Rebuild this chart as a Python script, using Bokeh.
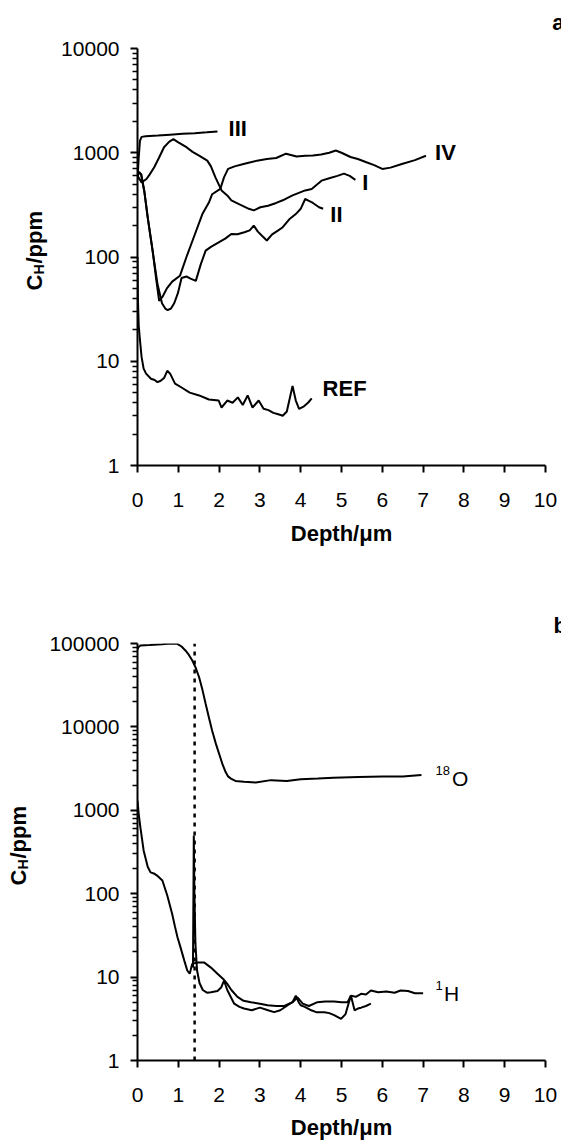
from math import pi, log10
from bokeh.plotting import figure
from bokeh.layouts import column
from bokeh.models import Range1d, FixedTicker, NumeralTickFormatter, Label
from bokeh.embed import file_html
from bokeh.resources import INLINE

# ---------------- data (panel a) ----------------
REF_d = [0.0, 0.01, 0.03, 0.06, 0.1, 0.15, 0.21, 0.33, 0.42, 0.49, 0.57, 0.65, 0.73, 0.8, 0.92, 1.08,
         1.28, 1.51, 1.75, 1.99, 2.06, 2.2, 2.33, 2.46, 2.58, 2.7, 2.82, 2.97, 3.09, 3.21, 3.33, 3.45,
         3.56, 3.66, 3.72, 3.8, 3.88, 3.96, 4.08, 4.18, 4.27]
REF_v = [100, 40, 22, 16, 11, 8.5, 7.6, 6.8, 6.6, 6.3, 6.5, 6.9, 8.1, 7.6, 6.1, 5.6,
         5.0, 4.7, 4.3, 4.2, 3.6, 4.2, 4.0, 4.5, 3.8, 4.7, 3.6, 4.2, 3.5, 3.4, 3.2, 3.1,
         3.0, 3.3, 4.2, 5.8, 4.2, 3.5, 3.7, 4.0, 4.4]

III_d = [0.0, 0.03, 0.06, 0.1, 0.2, 0.5, 0.8, 1.1, 1.4, 1.7, 1.96]
III_v = [550, 900, 1300, 1420, 1440, 1460, 1490, 1520, 1540, 1570, 1600]

I_d = [0.0, 0.05, 0.1, 0.22, 0.3, 0.41, 0.53, 0.65, 0.78, 0.88, 1.0, 1.2, 1.35, 1.51, 1.71, 1.8,
       1.91, 2.06, 2.2, 2.3, 2.5, 2.73, 2.85, 3.01, 3.2, 3.4, 3.56, 3.8, 4.11, 4.27, 4.51, 4.7,
       4.9, 5.06, 5.2, 5.34]
I_v = [600, 560, 520, 560, 620, 725, 900, 1130, 1280, 1350, 1260, 1130, 1020, 940, 840, 740,
       580, 435, 390, 350, 320, 290, 280, 300, 310, 330, 350, 390, 435, 450, 540, 570,
       600, 630, 600, 550]

IV_d = [0.0, 0.04, 0.09, 0.17, 0.25, 0.37, 0.45, 0.53, 0.62, 0.72, 0.85, 1.04, 1.2, 1.35, 1.59,
        1.75, 1.83, 2.03, 2.12, 2.22, 2.38, 2.6, 2.77, 2.93, 3.17, 3.4, 3.64, 3.9, 4.11, 4.3, 4.5,
        4.7, 4.86, 5.0, 5.22, 5.4, 5.61, 5.8, 6.0, 6.2, 6.48, 6.8, 7.07]
IV_v = [600, 650, 620, 420, 240, 115, 65, 38, 42, 50, 58, 66, 100, 144, 258,
        333, 400, 450, 580, 700, 740, 780, 810, 840, 870, 890, 980, 920, 935, 940, 960,
        1000, 1050, 1000, 910, 870, 810, 760, 700, 720, 780, 850, 935]

II_d = [0.0, 0.04, 0.09, 0.17, 0.25, 0.37, 0.49, 0.6, 0.68, 0.74, 0.82, 0.9, 0.99, 1.08, 1.2, 1.3,
        1.43, 1.55, 1.67, 1.8, 1.99, 2.15, 2.3, 2.45, 2.62, 2.75, 2.85, 2.95, 3.05, 3.17, 3.3,
        3.45, 3.56, 3.72, 3.88, 4.0, 4.11, 4.19, 4.3, 4.45, 4.55]
II_v = [600, 650, 620, 420, 240, 115, 55, 36, 32, 31, 32, 36, 45, 63, 65, 62,
        59, 85, 115, 125, 138, 150, 166, 165, 173, 180, 200, 175, 160, 144, 165,
        180, 193, 230, 258, 290, 360, 347, 330, 300, 290]

# ---------------- data (panel b) ----------------
O18_d = [0.0, 0.02, 0.07, 0.3, 0.6, 0.81, 0.975, 1.08, 1.18, 1.26, 1.34, 1.42, 1.51, 1.59, 1.67,
         1.75, 1.83, 1.92, 2.0, 2.08, 2.16, 2.22, 2.29, 2.4, 2.61, 2.9, 3.27, 3.66, 4.0, 4.42,
         4.8, 5.42, 6.0, 6.5, 6.96]
O18_v = [85000, 90000, 94600, 96000, 98000, 100000, 99000, 92000, 82000, 73000, 63000, 52000,
         39400, 28000, 19000, 13000, 9000, 6300, 4760, 3600, 2870, 2550, 2400, 2250, 2200, 2150,
         2300, 2250, 2350, 2400, 2450, 2500, 2550, 2550, 2650]

HA_d = [0.0, 0.03, 0.07, 0.15, 0.25, 0.32, 0.4, 0.48, 0.61, 0.73, 0.85, 0.92, 0.98, 1.04, 1.1,
        1.16, 1.22, 1.28, 1.34, 1.47, 1.63, 1.8, 1.96, 2.1, 2.2, 2.3, 2.45, 2.6, 2.78, 3.0, 3.19,
        3.4, 3.6, 3.8, 3.92, 4.05, 4.2, 4.41, 4.6, 4.82, 5.0, 5.15, 5.23, 5.35, 5.48, 5.6, 5.72,
        5.9, 6.1, 6.3, 6.45, 6.63, 6.8, 7.0]
HA_v = [1300, 900, 630, 330, 210, 180, 175, 165, 144, 95, 57, 40, 30, 24, 19,
        15, 12, 11, 14.4, 15, 15, 13, 11, 9.5, 8.3, 7.0, 5.8, 5.2, 5.0, 4.8, 4.6,
        4.5, 4.5, 5.0, 5.7, 4.8, 4.5, 5.0, 5.1, 5.1, 5.0, 5.0, 6.0, 5.8, 6.3, 6.2, 6.9,
        6.6, 6.7, 6.5, 6.9, 6.8, 6.4, 6.4]

HB_d = [1.36, 1.38, 1.395, 1.42, 1.46, 1.52, 1.6, 1.7, 1.8, 1.96, 2.05, 2.12, 2.2, 2.37, 2.5,
        2.61, 2.8, 3.0, 3.2, 3.35, 3.5, 3.68, 3.8, 3.88, 3.95, 4.0, 4.1, 4.26, 4.38, 4.58, 4.7,
        4.82, 4.99, 5.1, 5.15, 5.23, 5.32, 5.4, 5.48, 5.6, 5.72]
HB_v = [13, 500, 100, 25, 12, 8.5, 7.0, 6.5, 6.6, 6.8, 7.5, 9.1, 7.0, 4.8, 4.4,
        4.2, 4.0, 4.3, 4.0, 3.8, 4.0, 4.6, 5.0, 6.0, 5.0, 4.6, 4.4, 4.0, 3.8, 3.8, 3.7,
        3.5, 3.16, 3.6, 4.4, 6.0, 4.0, 4.2, 4.3, 4.5, 4.8]

INTERFACE_d = [1.4, 1.4]
INTERFACE_v = [1, 100000]

x_ticks = [0, 1, 2, 3, 4, 5, 6, 7, 8, 9, 10]
y_ticks_a = [1, 10, 100, 1000, 10000]
y_ticks_b = [1, 10, 100, 1000, 10000, 100000]

# ---------------- layout (page pixels; the page has no body margin) ----------------
FONT = "Liberation Sans"
W = 561
H1, H2 = 590, 554
G1 = dict(left=126, right=547, top=48, bottom=465, xmax=10, ymin=1, ymax=1e4, ftop=0, h=H1)
G2 = dict(left=137, right=545, top=643, bottom=1060, xmax=10, ymin=1, ymax=1e5, ftop=H1, h=H2)


def to_data(g, px, py):
    d = (px - g["left"]) / (g["right"] - g["left"]) * g["xmax"]
    lo, hi = log10(g["ymin"]), log10(g["ymax"])
    v = 10 ** (lo + (g["bottom"] - py) / (g["bottom"] - g["top"]) * (hi - lo))
    return d, v


def add_text(p, g, text, px, py, size, bold=False, align="left", baseline="middle",
             angle=0.0, side="center"):
    d, v = to_data(g, px, py)
    lab = Label(x=d, y=v, text=text, text_font=FONT, text_font_size=f"{size}px",
                text_font_style="bold" if bold else "normal", text_color="black",
                text_align=align, text_baseline=baseline, angle=angle)
    p.add_layout(lab, side)


def make_fig(g, yticks):
    p = figure(width=W, height=g["h"], y_axis_type="log", output_backend="svg",
               toolbar_location=None, x_range=Range1d(0, g["xmax"]),
               y_range=Range1d(g["ymin"], g["ymax"]),
               min_border_left=g["left"], min_border_right=W - g["right"],
               min_border_top=g["top"] - g["ftop"],
               min_border_bottom=g["ftop"] + g["h"] - g["bottom"])
    p.outline_line_color = None
    p.xgrid.visible = False
    p.ygrid.visible = False
    p.background_fill_color = "white"
    p.border_fill_color = "white"
    minors = [m * t for t in yticks[:-1] for m in range(2, 10)]
    p.yaxis.ticker = FixedTicker(ticks=yticks, minor_ticks=minors)
    p.yaxis.formatter = NumeralTickFormatter(format="0")
    p.xaxis.ticker = FixedTicker(ticks=x_ticks, minor_ticks=[])
    for ax in (p.xaxis, p.yaxis):
        ax.axis_line_width = 2
        ax.axis_line_color = "black"
        ax.major_tick_line_width = 2
        ax.major_tick_line_color = "black"
        ax.major_tick_in = 0
        ax.major_tick_out = 7
        ax.minor_tick_in = 0
        ax.minor_tick_out = 5
        ax.minor_tick_line_width = 1.5
        ax.minor_tick_line_color = "black"
        ax.major_label_text_font = FONT
        ax.major_label_text_font_size = "21px"
        ax.major_label_text_color = "black"
    p.yaxis.major_label_standoff = 11
    p.xaxis.major_label_standoff = 20
    return p


def y_title(p, g, px, py_start, h_side):
    wc = 0.722 * 22
    add_text(p, g, "C\u2002/ppm", px, py_start, 22, bold=True, angle=pi / 2, side="left")
    add_text(p, g, "H", px + 4, py_start - wc, 14, bold=True, angle=pi / 2, side=h_side)


# ---------------- panel a ----------------
p1 = make_fig(G1, y_ticks_a)
for dd, vv in ((REF_d, REF_v), (III_d, III_v), (I_d, I_v), (IV_d, IV_v), (II_d, II_v)):
    p1.line(dd, vv, line_color="black", line_width=2)

add_text(p1, G1, "III", 220, 128, 22, bold=True)
add_text(p1, G1, "IV", 433, 152, 22, bold=True)
add_text(p1, G1, "I", 358, 182, 22, bold=True)
add_text(p1, G1, "II", 325, 214, 22, bold=True)
add_text(p1, G1, "REF", 317, 388, 22, bold=True)
add_text(p1, G1, "a", 554, 22, 22, bold=True, baseline="alphabetic", side="below")
add_text(p1, G1, "Depth/μm", (G1["left"] + G1["right"]) / 2, 533, 22, bold=True,
         align="center", side="below")
y_title(p1, G1, 20, 290, "above")

# ---------------- panel b ----------------
p2 = make_fig(G2, y_ticks_b)
p2.line(INTERFACE_d, INTERFACE_v, line_color="black", line_width=2.5, line_dash="4 5")
for dd, vv in ((O18_d, O18_v), (HA_d, HA_v), (HB_d, HB_v)):
    p2.line(dd, vv, line_color="black", line_width=2)

add_text(p2, G2, "18", 435, 770, 13, baseline="alphabetic")
add_text(p2, G2, "O", 451.5, 778, 21, baseline="alphabetic")
add_text(p2, G2, "1", 435, 985, 13, baseline="alphabetic")
add_text(p2, G2, "H", 443.6, 993, 21, baseline="alphabetic")
add_text(p2, G2, "b", 553, 625, 22, bold=True, baseline="alphabetic", side="above")
add_text(p2, G2, "Depth/μm", (G2["left"] + G2["right"]) / 2, 1127, 22, bold=True,
         align="center", side="below")
y_title(p2, G2, 18, 885, "above")

layout = column(p1, p2)
open("out.html", "w").write(file_html(layout, INLINE))
